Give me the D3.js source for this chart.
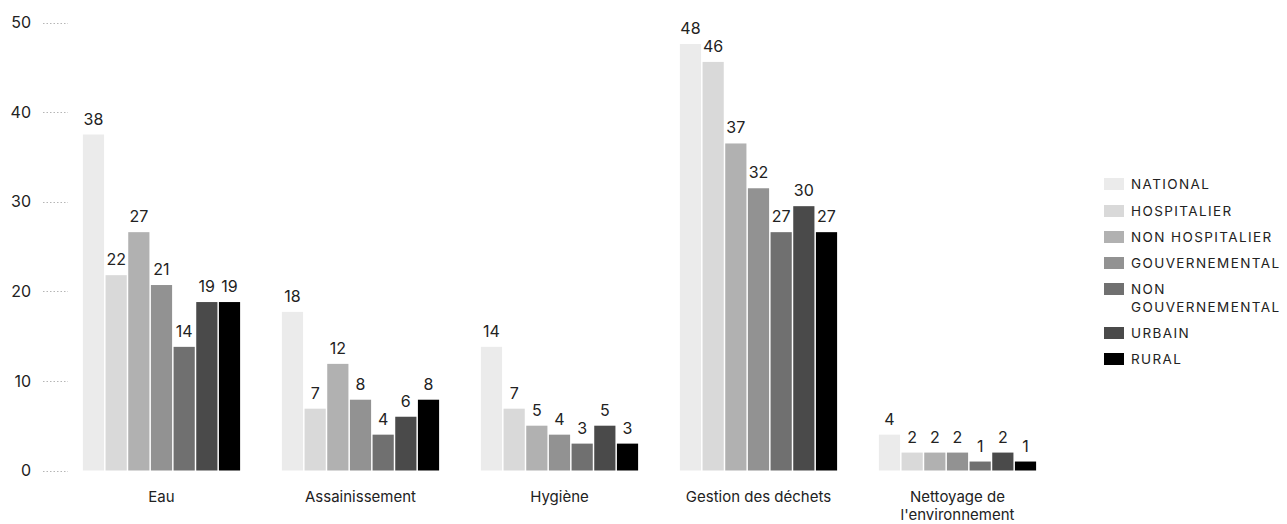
<!DOCTYPE html>
<html>
<head>
<meta charset="utf-8">
<script src="https://cdn.jsdelivr.net/npm/d3@7"></script>
<style>
  html, body { margin: 0; padding: 0; background: #fff; }
  svg { display: block; font-family: "Inter", "Liberation Sans", sans-serif; }
</style>
</head>
<body>
<svg id="chart" width="1287" height="524"></svg>
<script>
const categories = ["Eau", "Assainissement", "Hygiène", "Gestion des déchets", "Nettoyage de l'environnement"];
const seriesNames = ["NATIONAL", "HOSPITALIER", "NON HOSPITALIER", "GOUVERNEMENTAL", "NON GOUVERNEMENTAL", "URBAIN", "RURAL"];
const seriesColors = ["#ebebeb", "#d9d9d9", "#b1b1b1", "#929292", "#707070", "#4a4a4a", "#000000"];
const national        = [37.5, 17.7, 13.8, 47.6, 4.0];
const hospitalier     = [21.8, 6.9, 6.9, 45.6, 2.0];
const nonHospitalier  = [26.6, 11.9, 5.0, 36.5, 2.0];
const gouvernemental  = [20.7, 7.9, 4.0, 31.5, 2.0];
const nonGouvernemental = [13.8, 4.0, 3.0, 26.6, 1.0];
const urbain          = [18.8, 6.0, 5.0, 29.5, 2.0];
const rural           = [18.8, 7.9, 3.0, 26.6, 1.0];
const yTicks = [0, 10, 20, 30, 40, 50];

const seriesValues = [national, hospitalier, nonHospitalier, gouvernemental, nonGouvernemental, urbain, rural];

const svg = d3.select("#chart");
const y = d3.scaleLinear().domain([0, 50]).range([470.5, 22.5]);
const x0 = d3.scaleBand().domain(categories).range([62, 1057]).paddingInner(0.21).paddingOuter(0.105);
const x1 = d3.scaleBand().domain(seriesNames).range([0, x0.bandwidth()]).paddingInner(0.065);

// y axis
const yAxis = d3.axisLeft(y).tickValues(yTicks).tickSize(0).tickPadding(0);
const yg = svg.append("g").attr("transform", "translate(31,0)").call(yAxis);
yg.select(".domain").remove();
yg.selectAll("text").attr("font-size", 16).attr("fill", "#222").attr("font-family", "Inter, sans-serif");
// dotted short gridlines
svg.append("g").selectAll("line").data(yTicks).join("line")
  .attr("x1", 43).attr("x2", 68)
  .attr("y1", d => Math.round(y(d)) + 0.5).attr("y2", d => Math.round(y(d)) + 0.5)
  .attr("stroke", "#b5b5b5").attr("stroke-width", 1).attr("stroke-dasharray", "1.5,2");

// bars
const groups = svg.append("g").selectAll("g").data(categories).join("g")
  .attr("transform", d => `translate(${x0(d)},0)`);

groups.each(function(cat, ci) {
  const g = d3.select(this);
  const data = seriesNames.map((s, si) => ({ s, si, v: seriesValues[si][ci] }));
  g.selectAll("rect").data(data).join("rect")
    .attr("x", d => x1(d.s))
    .attr("width", x1.bandwidth())
    .attr("y", d => y(d.v))
    .attr("height", d => y(0) - y(d.v))
    .attr("fill", d => seriesColors[d.si]);
  g.selectAll("text").data(data).join("text")
    .attr("x", d => x1(d.s) + x1.bandwidth() / 2)
    .attr("y", d => y(d.v) - 10)
    .attr("text-anchor", "middle")
    .attr("font-size", 16)
    .attr("fill", "#222")
    .text(d => d3.format(".0f")(d.v));
});

// x axis labels (wrapped)
function wrapText(textSel, width) {
  textSel.each(function() {
    const t = d3.select(this);
    const words = t.text().split(/\s+/);
    const x = t.attr("x"), yv = t.attr("y");
    t.text(null);
    let line = [], lineNo = 0;
    let tspan = t.append("tspan").attr("x", x).attr("y", yv);
    for (const w of words) {
      line.push(w);
      tspan.text(line.join(" "));
      if (tspan.node().getComputedTextLength() > width && line.length > 1) {
        line.pop();
        tspan.text(line.join(" "));
        line = [w];
        lineNo++;
        tspan = t.append("tspan").attr("x", x).attr("y", +yv + lineNo * 18).text(w);
      }
    }
  });
}

svg.append("g").selectAll("text").data(categories).join("text")
  .attr("x", d => x0(d) + x0.bandwidth() / 2)
  .attr("y", 502)
  .attr("text-anchor", "middle")
  .attr("font-size", 15)
  .attr("fill", "#222")
  .text(d => d)
  .call(wrapText, 180);

// legend
const legendY = [184, 211, 237, 263, 289, 333, 359];
const legend = svg.append("g");
seriesNames.forEach((s, i) => {
  const row = legend.append("g").attr("transform", `translate(1104,${legendY[i]})`);
  row.append("rect").attr("x", 0).attr("y", -6).attr("width", 20).attr("height", 12).attr("fill", seriesColors[i]);
  const t = row.append("text").attr("x", 27).attr("y", 5)
    .attr("font-size", 13.5).attr("letter-spacing", "1.4px").attr("fill", "#222")
    .text(s);
  const words = s.split(" ");
  if (t.node().getComputedTextLength() > 158 && words.length > 1) {
    t.text(null);
    t.append("tspan").attr("x", 27).attr("y", 5).text(words[0]);
    t.append("tspan").attr("x", 27).attr("y", 23).text(words.slice(1).join(" "));
  }
});
</script>
</body>
</html>
